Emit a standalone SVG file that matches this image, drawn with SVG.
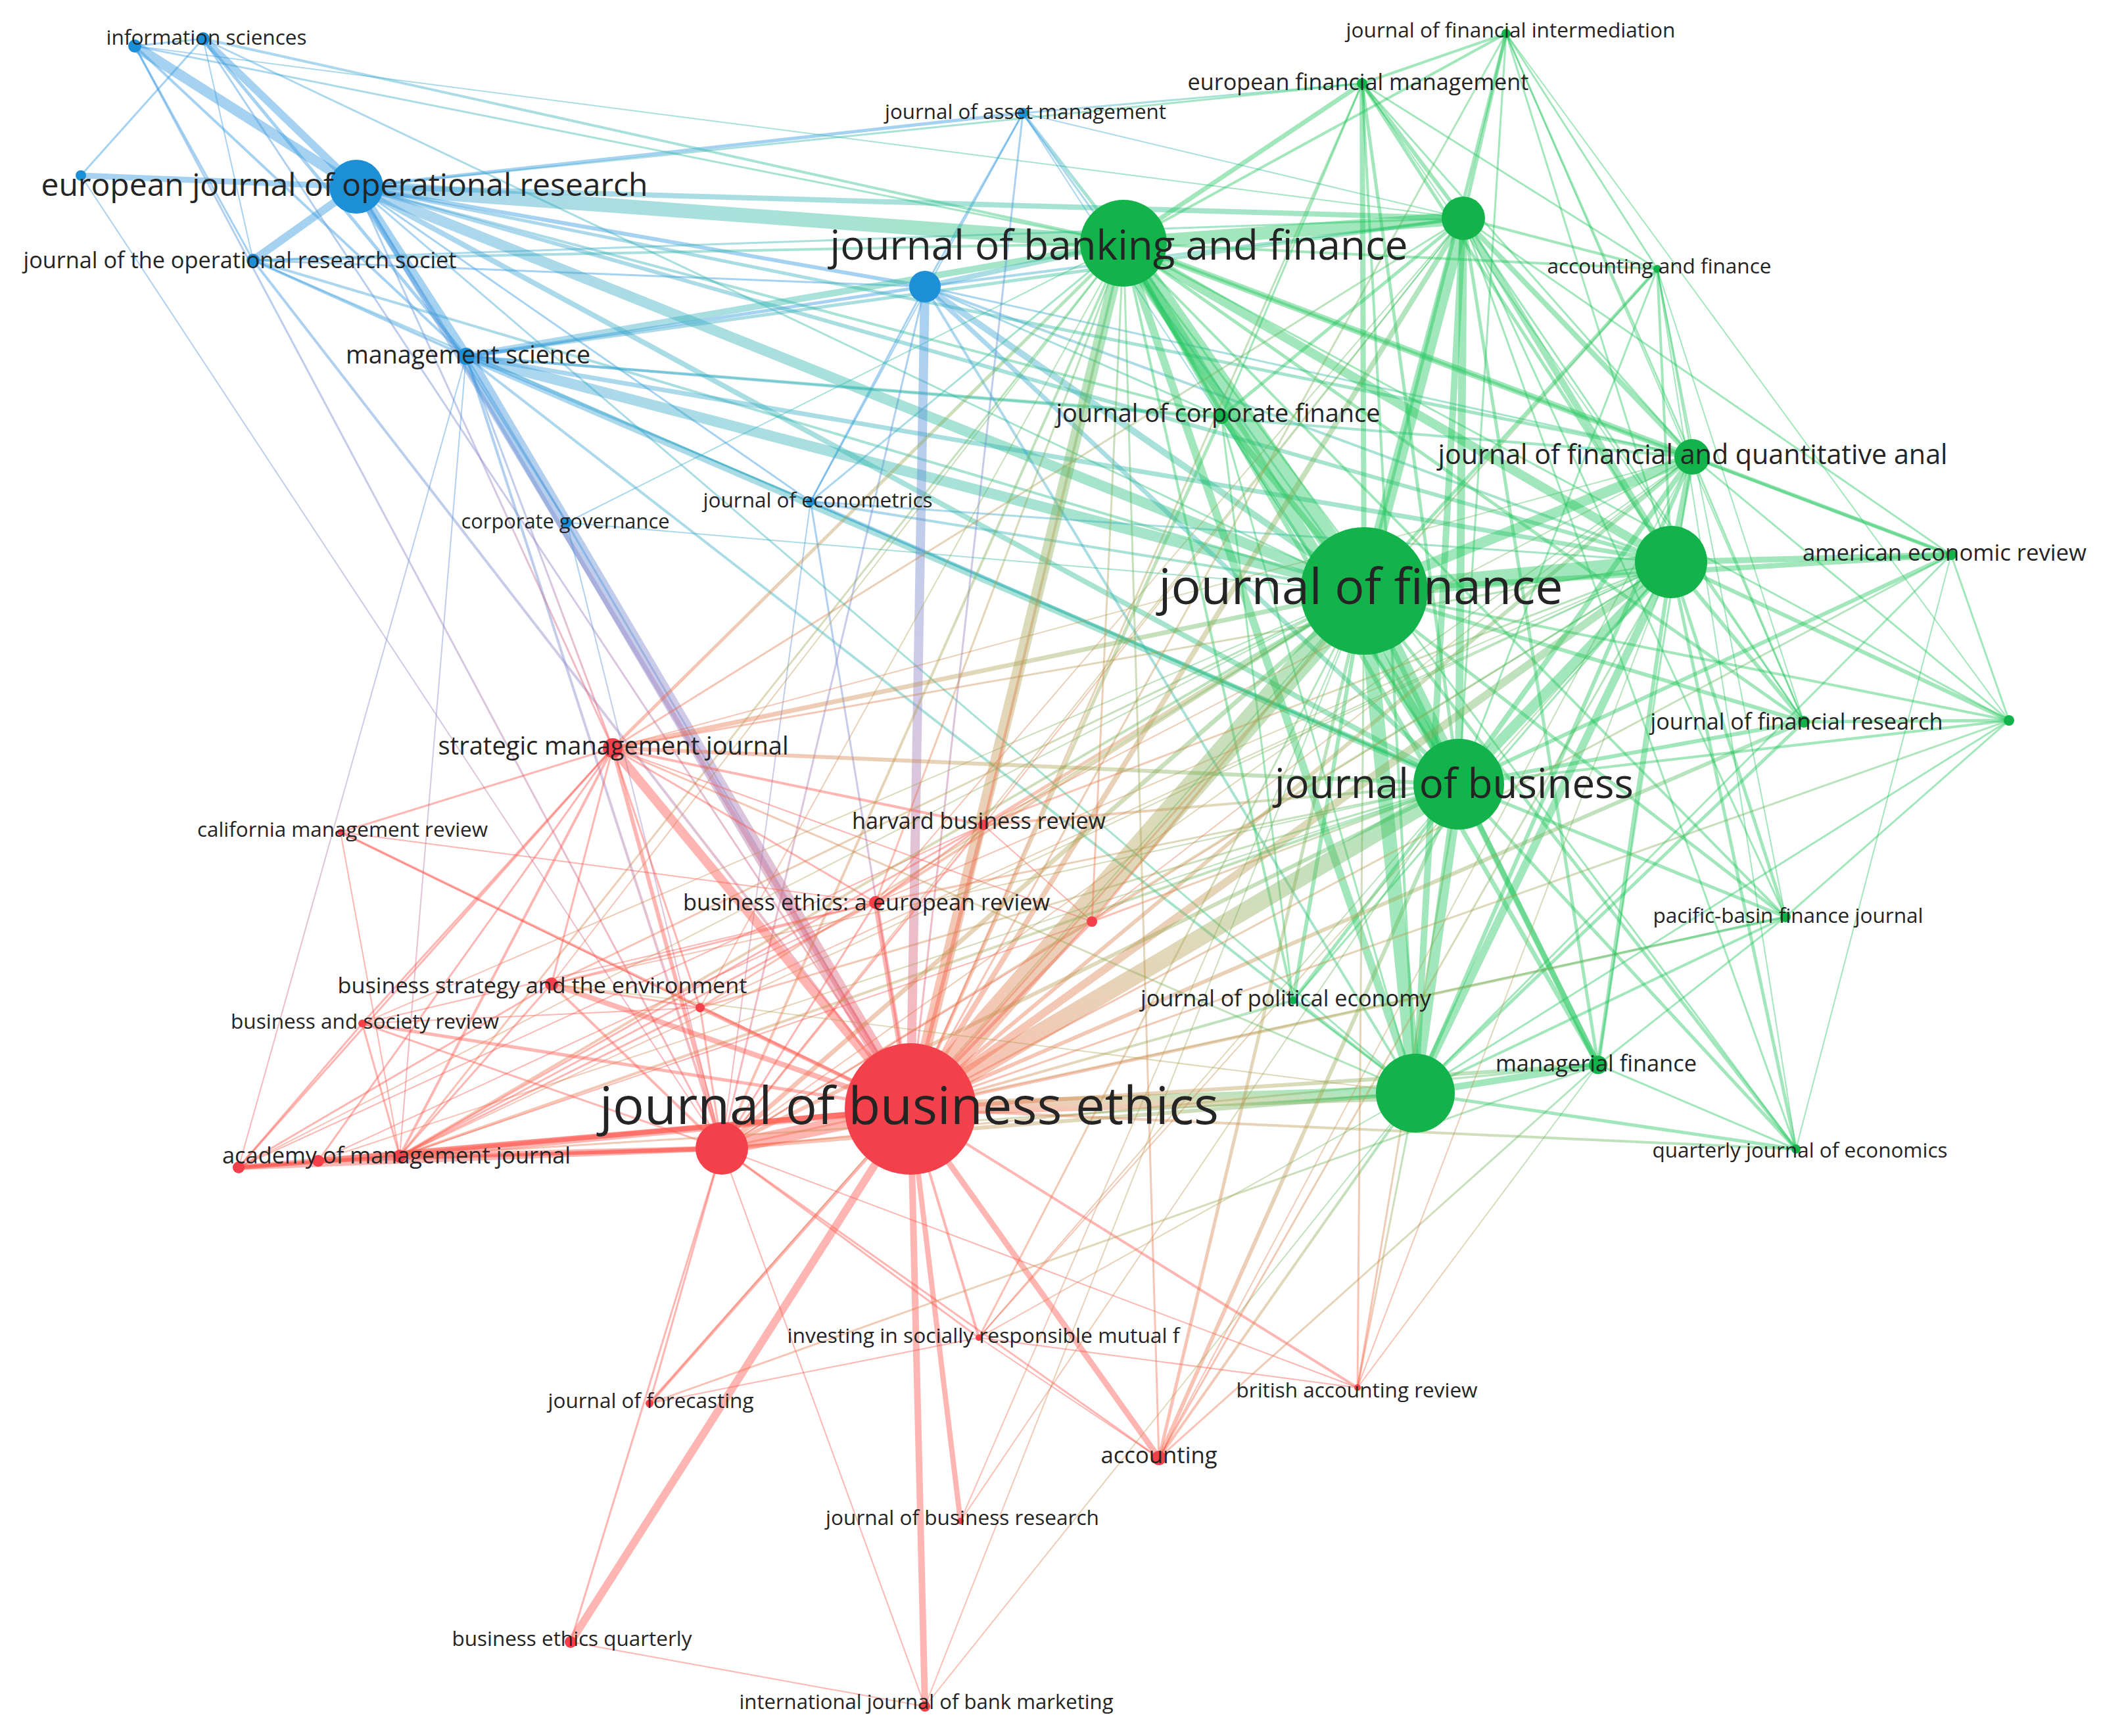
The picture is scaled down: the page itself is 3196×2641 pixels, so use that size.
<svg xmlns="http://www.w3.org/2000/svg" width="3196" height="2641" viewBox="0 0 3196 2641">
<defs>
<linearGradient id="gA" x1="0" y1="1" x2="1" y2="0"><stop offset="0" stop-color="#ff5a40"/><stop offset=".5" stop-color="#b0a050"/><stop offset="1" stop-color="#22c55e"/></linearGradient>
<linearGradient id="gB" x1="0" y1="0" x2="1" y2="1"><stop offset="0" stop-color="#ff5a40"/><stop offset=".5" stop-color="#b0a050"/><stop offset="1" stop-color="#22c55e"/></linearGradient>
<linearGradient id="gC" x1="1" y1="1" x2="0" y2="0"><stop offset="0" stop-color="#ff5a40"/><stop offset=".5" stop-color="#b0a050"/><stop offset="1" stop-color="#22c55e"/></linearGradient>
<linearGradient id="gBG" x1="0" y1="0" x2="1" y2="0"><stop offset="0" stop-color="#3a9be0"/><stop offset=".5" stop-color="#2fb8a8"/><stop offset="1" stop-color="#22c55e"/></linearGradient>
<linearGradient id="gBR" x1="0" y1="0" x2="0" y2="1"><stop offset="0" stop-color="#3a9be0"/><stop offset=".5" stop-color="#9a88c8"/><stop offset="1" stop-color="#ff5a5a"/></linearGradient>
</defs>
<style>
.b line{stroke:#3a9be0;stroke-opacity:.45}
.bg line{stroke:url(#gBG);stroke-opacity:.42}
.g line{stroke:#22c55e;stroke-opacity:.42}
.r line{stroke:#ff5248;stroke-opacity:.42}
.rgA line{stroke:url(#gA);stroke-opacity:.4}
.rgB line{stroke:url(#gB);stroke-opacity:.4}
.rgC line{stroke:url(#gC);stroke-opacity:.4}
.br line{stroke:url(#gBR);stroke-opacity:.45}
.nb circle{fill:#1d8fd6}
.ng circle{fill:#12b34a}
.nr circle{fill:#f4404a}
text{font-family:"Open Sans","Noto Sans","DejaVu Sans",sans-serif;fill:#242424;text-anchor:middle}
</style>
<rect width="3196" height="2641" fill="#ffffff"/>
<g id="connectors">
<g class="b">
<line x1="205" y1="70" x2="309" y2="59" stroke-width="3"/>
<line x1="309" y1="59" x2="123" y2="267" stroke-width="3"/>
<line x1="123" y1="267" x2="542" y2="284" stroke-width="9"/>
<line x1="205" y1="70" x2="542" y2="284" stroke-width="16"/>
<line x1="309" y1="59" x2="542" y2="284" stroke-width="12"/>
<line x1="205" y1="70" x2="709" y2="542" stroke-width="4"/>
<line x1="309" y1="59" x2="709" y2="542" stroke-width="5"/>
<line x1="205" y1="70" x2="385" y2="396" stroke-width="3"/>
<line x1="309" y1="59" x2="385" y2="396" stroke-width="2"/>
<line x1="542" y1="284" x2="385" y2="396" stroke-width="12"/>
<line x1="542" y1="284" x2="709" y2="542" stroke-width="16"/>
<line x1="385" y1="396" x2="709" y2="542" stroke-width="4"/>
<line x1="542" y1="284" x2="1556" y2="172" stroke-width="5"/>
<line x1="542" y1="284" x2="1407" y2="436" stroke-width="6"/>
<line x1="709" y1="542" x2="1407" y2="436" stroke-width="5"/>
<line x1="709" y1="542" x2="862" y2="795" stroke-width="3"/>
<line x1="709" y1="542" x2="1233" y2="763" stroke-width="3"/>
<line x1="542" y1="284" x2="1233" y2="763" stroke-width="3"/>
<line x1="1556" y1="172" x2="1407" y2="436" stroke-width="3"/>
<line x1="1407" y1="436" x2="1233" y2="763" stroke-width="3"/>
<line x1="1556" y1="172" x2="1233" y2="763" stroke-width="2"/>
<line x1="542" y1="284" x2="862" y2="795" stroke-width="3"/>
<line x1="385" y1="396" x2="1407" y2="436" stroke-width="3"/>
</g>
<g class="bg">
<line x1="542" y1="284" x2="1709" y2="370" stroke-width="22"/>
<line x1="542" y1="284" x2="2226" y2="332" stroke-width="8"/>
<line x1="542" y1="284" x2="2075" y2="899" stroke-width="16"/>
<line x1="542" y1="284" x2="2219" y2="1193" stroke-width="8"/>
<line x1="542" y1="284" x2="2542" y2="855" stroke-width="6"/>
<line x1="542" y1="284" x2="2574" y2="695" stroke-width="5"/>
<line x1="542" y1="284" x2="1858" y2="634" stroke-width="4"/>
<line x1="542" y1="284" x2="2153" y2="1663" stroke-width="3"/>
<line x1="542" y1="284" x2="2072" y2="127" stroke-width="3"/>
<line x1="205" y1="70" x2="1709" y2="370" stroke-width="3"/>
<line x1="309" y1="59" x2="1709" y2="370" stroke-width="4"/>
<line x1="309" y1="59" x2="2075" y2="899" stroke-width="3"/>
<line x1="205" y1="70" x2="2226" y2="332" stroke-width="2"/>
<line x1="385" y1="396" x2="1709" y2="370" stroke-width="4"/>
<line x1="385" y1="396" x2="2075" y2="899" stroke-width="4"/>
<line x1="385" y1="396" x2="2226" y2="332" stroke-width="3"/>
<line x1="385" y1="396" x2="2219" y2="1193" stroke-width="3"/>
<line x1="709" y1="542" x2="1709" y2="370" stroke-width="10"/>
<line x1="709" y1="542" x2="2075" y2="899" stroke-width="16"/>
<line x1="709" y1="542" x2="2219" y2="1193" stroke-width="10"/>
<line x1="709" y1="542" x2="2226" y2="332" stroke-width="5"/>
<line x1="709" y1="542" x2="2542" y2="855" stroke-width="7"/>
<line x1="709" y1="542" x2="2574" y2="695" stroke-width="4"/>
<line x1="709" y1="542" x2="2153" y2="1663" stroke-width="4"/>
<line x1="709" y1="542" x2="1858" y2="634" stroke-width="4"/>
<line x1="1556" y1="172" x2="1709" y2="370" stroke-width="5"/>
<line x1="1556" y1="172" x2="2072" y2="127" stroke-width="3"/>
<line x1="1556" y1="172" x2="2075" y2="899" stroke-width="3"/>
<line x1="1556" y1="172" x2="2219" y2="1193" stroke-width="2"/>
<line x1="1556" y1="172" x2="2226" y2="332" stroke-width="2"/>
<line x1="1407" y1="436" x2="1709" y2="370" stroke-width="8"/>
<line x1="1407" y1="436" x2="2075" y2="899" stroke-width="10"/>
<line x1="1407" y1="436" x2="2219" y2="1193" stroke-width="7"/>
<line x1="1407" y1="436" x2="2226" y2="332" stroke-width="4"/>
<line x1="1407" y1="436" x2="2542" y2="855" stroke-width="4"/>
<line x1="1407" y1="436" x2="2574" y2="695" stroke-width="3"/>
<line x1="1407" y1="436" x2="2153" y2="1663" stroke-width="4"/>
<line x1="1407" y1="436" x2="1858" y2="634" stroke-width="3"/>
<line x1="1233" y1="763" x2="2075" y2="899" stroke-width="4"/>
<line x1="1233" y1="763" x2="1709" y2="370" stroke-width="3"/>
<line x1="1233" y1="763" x2="2219" y2="1193" stroke-width="5"/>
<line x1="1233" y1="763" x2="2542" y2="855" stroke-width="3"/>
<line x1="862" y1="795" x2="1709" y2="370" stroke-width="2"/>
<line x1="862" y1="795" x2="2075" y2="899" stroke-width="2"/>
</g>
<g class="br">
<line x1="709" y1="542" x2="1385" y2="1687" stroke-width="22"/>
<line x1="542" y1="284" x2="1385" y2="1687" stroke-width="7"/>
<line x1="1407" y1="436" x2="1385" y2="1687" stroke-width="14"/>
<line x1="385" y1="396" x2="1385" y2="1687" stroke-width="4"/>
<line x1="205" y1="70" x2="1098" y2="1747" stroke-width="3"/>
<line x1="123" y1="267" x2="1098" y2="1747" stroke-width="2"/>
<line x1="309" y1="59" x2="1385" y2="1687" stroke-width="3"/>
<line x1="709" y1="542" x2="932" y2="1138" stroke-width="3"/>
<line x1="709" y1="542" x2="1098" y2="1747" stroke-width="4"/>
<line x1="542" y1="284" x2="932" y2="1138" stroke-width="3"/>
<line x1="1556" y1="172" x2="1385" y2="1687" stroke-width="3"/>
<line x1="1233" y1="763" x2="1385" y2="1687" stroke-width="3"/>
<line x1="862" y1="795" x2="1385" y2="1687" stroke-width="3"/>
<line x1="862" y1="795" x2="1098" y2="1747" stroke-width="2"/>
<line x1="709" y1="542" x2="363" y2="1776" stroke-width="2"/>
<line x1="709" y1="542" x2="608" y2="1759" stroke-width="2"/>
<line x1="1233" y1="763" x2="1098" y2="1747" stroke-width="2"/>
<line x1="1407" y1="436" x2="1098" y2="1747" stroke-width="3"/>
</g>
<g class="g">
<line x1="1709" y1="370" x2="2075" y2="899" stroke-width="32"/>
<line x1="1709" y1="370" x2="2226" y2="332" stroke-width="20"/>
<line x1="1709" y1="370" x2="2219" y2="1193" stroke-width="18"/>
<line x1="1709" y1="370" x2="2542" y2="855" stroke-width="14"/>
<line x1="1709" y1="370" x2="2574" y2="695" stroke-width="10"/>
<line x1="1709" y1="370" x2="2153" y2="1663" stroke-width="12"/>
<line x1="1709" y1="370" x2="2072" y2="127" stroke-width="7"/>
<line x1="1709" y1="370" x2="2291" y2="51" stroke-width="4"/>
<line x1="1709" y1="370" x2="2521" y2="409" stroke-width="4"/>
<line x1="1709" y1="370" x2="1858" y2="634" stroke-width="7"/>
<line x1="1709" y1="370" x2="2744" y2="1098" stroke-width="5"/>
<line x1="1709" y1="370" x2="2431" y2="1620" stroke-width="7"/>
<line x1="1709" y1="370" x2="2716" y2="1395" stroke-width="4"/>
<line x1="1709" y1="370" x2="2968" y2="844" stroke-width="4"/>
<line x1="1709" y1="370" x2="1967" y2="1522" stroke-width="4"/>
<line x1="1709" y1="370" x2="2732" y2="1748" stroke-width="3"/>
<line x1="1709" y1="370" x2="3056" y2="1096" stroke-width="3"/>
<line x1="2075" y1="899" x2="2226" y2="332" stroke-width="20"/>
<line x1="2075" y1="899" x2="2542" y2="855" stroke-width="26"/>
<line x1="2075" y1="899" x2="2219" y2="1193" stroke-width="30"/>
<line x1="2075" y1="899" x2="2574" y2="695" stroke-width="16"/>
<line x1="2075" y1="899" x2="2153" y2="1663" stroke-width="22"/>
<line x1="2075" y1="899" x2="2968" y2="844" stroke-width="8"/>
<line x1="2075" y1="899" x2="2744" y2="1098" stroke-width="6"/>
<line x1="2075" y1="899" x2="2072" y2="127" stroke-width="8"/>
<line x1="2075" y1="899" x2="2291" y2="51" stroke-width="5"/>
<line x1="2075" y1="899" x2="2521" y2="409" stroke-width="5"/>
<line x1="2075" y1="899" x2="1858" y2="634" stroke-width="9"/>
<line x1="2075" y1="899" x2="2431" y2="1620" stroke-width="8"/>
<line x1="2075" y1="899" x2="2716" y2="1395" stroke-width="5"/>
<line x1="2075" y1="899" x2="1967" y2="1522" stroke-width="6"/>
<line x1="2075" y1="899" x2="2732" y2="1748" stroke-width="5"/>
<line x1="2075" y1="899" x2="3056" y2="1096" stroke-width="4"/>
<line x1="2226" y1="332" x2="2219" y2="1193" stroke-width="12"/>
<line x1="2226" y1="332" x2="2542" y2="855" stroke-width="10"/>
<line x1="2226" y1="332" x2="2574" y2="695" stroke-width="8"/>
<line x1="2226" y1="332" x2="2153" y2="1663" stroke-width="10"/>
<line x1="2226" y1="332" x2="2072" y2="127" stroke-width="6"/>
<line x1="2226" y1="332" x2="2291" y2="51" stroke-width="5"/>
<line x1="2226" y1="332" x2="2521" y2="409" stroke-width="4"/>
<line x1="2226" y1="332" x2="1858" y2="634" stroke-width="5"/>
<line x1="2226" y1="332" x2="2431" y2="1620" stroke-width="5"/>
<line x1="2226" y1="332" x2="2968" y2="844" stroke-width="3"/>
<line x1="2226" y1="332" x2="2744" y2="1098" stroke-width="3"/>
<line x1="2226" y1="332" x2="2732" y2="1748" stroke-width="3"/>
<line x1="2226" y1="332" x2="2716" y2="1395" stroke-width="3"/>
<line x1="2542" y1="855" x2="2219" y2="1193" stroke-width="16"/>
<line x1="2542" y1="855" x2="2574" y2="695" stroke-width="10"/>
<line x1="2542" y1="855" x2="2968" y2="844" stroke-width="9"/>
<line x1="2542" y1="855" x2="2153" y2="1663" stroke-width="12"/>
<line x1="2542" y1="855" x2="3056" y2="1096" stroke-width="6"/>
<line x1="2542" y1="855" x2="2744" y2="1098" stroke-width="6"/>
<line x1="2542" y1="855" x2="2431" y2="1620" stroke-width="6"/>
<line x1="2542" y1="855" x2="2716" y2="1395" stroke-width="5"/>
<line x1="2542" y1="855" x2="2732" y2="1748" stroke-width="5"/>
<line x1="2542" y1="855" x2="2072" y2="127" stroke-width="5"/>
<line x1="2542" y1="855" x2="2521" y2="409" stroke-width="4"/>
<line x1="2542" y1="855" x2="2291" y2="51" stroke-width="3"/>
<line x1="2542" y1="855" x2="1967" y2="1522" stroke-width="3"/>
<line x1="2219" y1="1193" x2="2574" y2="695" stroke-width="8"/>
<line x1="2219" y1="1193" x2="2153" y2="1663" stroke-width="16"/>
<line x1="2219" y1="1193" x2="2431" y2="1620" stroke-width="9"/>
<line x1="2219" y1="1193" x2="2744" y2="1098" stroke-width="6"/>
<line x1="2219" y1="1193" x2="2968" y2="844" stroke-width="6"/>
<line x1="2219" y1="1193" x2="2716" y2="1395" stroke-width="5"/>
<line x1="2219" y1="1193" x2="2732" y2="1748" stroke-width="5"/>
<line x1="2219" y1="1193" x2="3056" y2="1096" stroke-width="4"/>
<line x1="2219" y1="1193" x2="2072" y2="127" stroke-width="5"/>
<line x1="2219" y1="1193" x2="2291" y2="51" stroke-width="3"/>
<line x1="2219" y1="1193" x2="2521" y2="409" stroke-width="3"/>
<line x1="2219" y1="1193" x2="1967" y2="1522" stroke-width="5"/>
<line x1="2219" y1="1193" x2="1858" y2="634" stroke-width="5"/>
<line x1="2574" y1="695" x2="2968" y2="844" stroke-width="6"/>
<line x1="2574" y1="695" x2="2153" y2="1663" stroke-width="6"/>
<line x1="2574" y1="695" x2="2072" y2="127" stroke-width="3"/>
<line x1="2574" y1="695" x2="2521" y2="409" stroke-width="3"/>
<line x1="2574" y1="695" x2="2291" y2="51" stroke-width="3"/>
<line x1="2574" y1="695" x2="3056" y2="1096" stroke-width="3"/>
<line x1="2574" y1="695" x2="2744" y2="1098" stroke-width="3"/>
<line x1="2574" y1="695" x2="2431" y2="1620" stroke-width="3"/>
<line x1="2153" y1="1663" x2="2431" y2="1620" stroke-width="10"/>
<line x1="2153" y1="1663" x2="2716" y2="1395" stroke-width="4"/>
<line x1="2153" y1="1663" x2="2732" y2="1748" stroke-width="5"/>
<line x1="2153" y1="1663" x2="2744" y2="1098" stroke-width="5"/>
<line x1="2153" y1="1663" x2="2968" y2="844" stroke-width="3"/>
<line x1="2153" y1="1663" x2="3056" y2="1096" stroke-width="3"/>
<line x1="2153" y1="1663" x2="2072" y2="127" stroke-width="4"/>
<line x1="2153" y1="1663" x2="1967" y2="1522" stroke-width="3"/>
<line x1="2153" y1="1663" x2="1858" y2="634" stroke-width="3"/>
<line x1="2072" y1="127" x2="2291" y2="51" stroke-width="4"/>
<line x1="2072" y1="127" x2="2521" y2="409" stroke-width="3"/>
<line x1="2072" y1="127" x2="2744" y2="1098" stroke-width="2"/>
<line x1="2072" y1="127" x2="1858" y2="634" stroke-width="3"/>
<line x1="2291" y1="51" x2="2521" y2="409" stroke-width="3"/>
<line x1="2291" y1="51" x2="3056" y2="1096" stroke-width="2"/>
<line x1="2291" y1="51" x2="2744" y2="1098" stroke-width="2"/>
<line x1="2431" y1="1620" x2="2732" y2="1748" stroke-width="3"/>
<line x1="2431" y1="1620" x2="2716" y2="1395" stroke-width="3"/>
<line x1="2968" y1="844" x2="3056" y2="1096" stroke-width="3"/>
<line x1="2744" y1="1098" x2="3056" y2="1096" stroke-width="5"/>
<line x1="2716" y1="1395" x2="3056" y2="1096" stroke-width="3"/>
<line x1="2732" y1="1748" x2="2968" y2="844" stroke-width="2"/>
<line x1="2521" y1="409" x2="2744" y2="1098" stroke-width="2"/>
<line x1="2521" y1="409" x2="2716" y2="1395" stroke-width="2"/>
<line x1="2521" y1="409" x2="2732" y2="1748" stroke-width="2"/>
<line x1="1858" y1="634" x2="1967" y2="1522" stroke-width="3"/>
</g>
<g class="r">
<line x1="1385" y1="1687" x2="1098" y2="1747" stroke-width="22"/>
<line x1="1385" y1="1687" x2="932" y2="1138" stroke-width="14"/>
<line x1="1385" y1="1687" x2="363" y2="1776" stroke-width="8"/>
<line x1="1385" y1="1687" x2="484" y2="1766" stroke-width="8"/>
<line x1="1385" y1="1687" x2="608" y2="1759" stroke-width="10"/>
<line x1="1385" y1="1687" x2="839" y2="1497" stroke-width="8"/>
<line x1="1385" y1="1687" x2="1065" y2="1533" stroke-width="6"/>
<line x1="1385" y1="1687" x2="551" y2="1557" stroke-width="5"/>
<line x1="1385" y1="1687" x2="518" y2="1266" stroke-width="4"/>
<line x1="1385" y1="1687" x2="1496" y2="1255" stroke-width="6"/>
<line x1="1385" y1="1687" x2="1332" y2="1373" stroke-width="8"/>
<line x1="1385" y1="1687" x2="1661" y2="1402" stroke-width="5"/>
<line x1="1385" y1="1687" x2="1489" y2="2035" stroke-width="4"/>
<line x1="1385" y1="1687" x2="868" y2="2498" stroke-width="12"/>
<line x1="1385" y1="1687" x2="988" y2="2135" stroke-width="5"/>
<line x1="1385" y1="1687" x2="1763" y2="2218" stroke-width="9"/>
<line x1="1385" y1="1687" x2="1461" y2="2314" stroke-width="8"/>
<line x1="1385" y1="1687" x2="1407" y2="2596" stroke-width="10"/>
<line x1="1385" y1="1687" x2="2065" y2="2111" stroke-width="4"/>
<line x1="1098" y1="1747" x2="363" y2="1776" stroke-width="8"/>
<line x1="1098" y1="1747" x2="484" y2="1766" stroke-width="6"/>
<line x1="1098" y1="1747" x2="608" y2="1759" stroke-width="8"/>
<line x1="1098" y1="1747" x2="932" y2="1138" stroke-width="6"/>
<line x1="1098" y1="1747" x2="839" y2="1497" stroke-width="4"/>
<line x1="1098" y1="1747" x2="551" y2="1557" stroke-width="3"/>
<line x1="1098" y1="1747" x2="988" y2="2135" stroke-width="3"/>
<line x1="1098" y1="1747" x2="1489" y2="2035" stroke-width="3"/>
<line x1="1098" y1="1747" x2="1763" y2="2218" stroke-width="3"/>
<line x1="1098" y1="1747" x2="2065" y2="2111" stroke-width="2"/>
<line x1="1098" y1="1747" x2="1407" y2="2596" stroke-width="2"/>
<line x1="1098" y1="1747" x2="868" y2="2498" stroke-width="3"/>
<line x1="1098" y1="1747" x2="1065" y2="1533" stroke-width="3"/>
<line x1="1098" y1="1747" x2="1496" y2="1255" stroke-width="3"/>
<line x1="1098" y1="1747" x2="1332" y2="1373" stroke-width="3"/>
<line x1="1098" y1="1747" x2="1661" y2="1402" stroke-width="2"/>
<line x1="932" y1="1138" x2="363" y2="1776" stroke-width="3"/>
<line x1="932" y1="1138" x2="484" y2="1766" stroke-width="3"/>
<line x1="932" y1="1138" x2="608" y2="1759" stroke-width="4"/>
<line x1="932" y1="1138" x2="518" y2="1266" stroke-width="3"/>
<line x1="932" y1="1138" x2="839" y2="1497" stroke-width="3"/>
<line x1="932" y1="1138" x2="1496" y2="1255" stroke-width="4"/>
<line x1="932" y1="1138" x2="1332" y2="1373" stroke-width="3"/>
<line x1="932" y1="1138" x2="551" y2="1557" stroke-width="3"/>
<line x1="932" y1="1138" x2="1065" y2="1533" stroke-width="3"/>
<line x1="932" y1="1138" x2="1661" y2="1402" stroke-width="2"/>
<line x1="608" y1="1759" x2="363" y2="1776" stroke-width="6"/>
<line x1="484" y1="1766" x2="363" y2="1776" stroke-width="4"/>
<line x1="608" y1="1759" x2="551" y2="1557" stroke-width="3"/>
<line x1="363" y1="1776" x2="551" y2="1557" stroke-width="3"/>
<line x1="363" y1="1776" x2="839" y2="1497" stroke-width="3"/>
<line x1="608" y1="1759" x2="839" y2="1497" stroke-width="3"/>
<line x1="608" y1="1759" x2="1496" y2="1255" stroke-width="3"/>
<line x1="608" y1="1759" x2="1332" y2="1373" stroke-width="3"/>
<line x1="484" y1="1766" x2="1332" y2="1373" stroke-width="2"/>
<line x1="363" y1="1776" x2="1496" y2="1255" stroke-width="2"/>
<line x1="608" y1="1759" x2="1065" y2="1533" stroke-width="3"/>
<line x1="608" y1="1759" x2="1661" y2="1402" stroke-width="2"/>
<line x1="518" y1="1266" x2="1332" y2="1373" stroke-width="2"/>
<line x1="518" y1="1266" x2="608" y2="1759" stroke-width="2"/>
<line x1="518" y1="1266" x2="1065" y2="1533" stroke-width="2"/>
<line x1="839" y1="1497" x2="1065" y2="1533" stroke-width="3"/>
<line x1="839" y1="1497" x2="1332" y2="1373" stroke-width="3"/>
<line x1="551" y1="1557" x2="1332" y2="1373" stroke-width="2"/>
<line x1="551" y1="1557" x2="1065" y2="1533" stroke-width="2"/>
<line x1="868" y1="2498" x2="1407" y2="2596" stroke-width="2"/>
<line x1="988" y1="2135" x2="1489" y2="2035" stroke-width="2"/>
<line x1="1489" y1="2035" x2="1763" y2="2218" stroke-width="2"/>
<line x1="1489" y1="2035" x2="2065" y2="2111" stroke-width="2"/>
<line x1="1496" y1="1255" x2="1332" y2="1373" stroke-width="3"/>
<line x1="1496" y1="1255" x2="1661" y2="1402" stroke-width="2"/>
</g>
<g class="rgA">
<line x1="1385" y1="1687" x2="2075" y2="899" stroke-width="36"/>
<line x1="1385" y1="1687" x2="2219" y2="1193" stroke-width="26"/>
<line x1="1385" y1="1687" x2="2153" y2="1663" stroke-width="22"/>
<line x1="1385" y1="1687" x2="1709" y2="370" stroke-width="18"/>
<line x1="1385" y1="1687" x2="2542" y2="855" stroke-width="12"/>
<line x1="1385" y1="1687" x2="2226" y2="332" stroke-width="8"/>
<line x1="1385" y1="1687" x2="2574" y2="695" stroke-width="6"/>
<line x1="1385" y1="1687" x2="1967" y2="1522" stroke-width="4"/>
<line x1="1385" y1="1687" x2="2431" y2="1620" stroke-width="6"/>
<line x1="1385" y1="1687" x2="1858" y2="634" stroke-width="5"/>
<line x1="1385" y1="1687" x2="2744" y2="1098" stroke-width="6"/>
<line x1="1385" y1="1687" x2="2716" y2="1395" stroke-width="4"/>
<line x1="1385" y1="1687" x2="2968" y2="844" stroke-width="3"/>
<line x1="1385" y1="1687" x2="2072" y2="127" stroke-width="3"/>
<line x1="1385" y1="1687" x2="2291" y2="51" stroke-width="3"/>
<line x1="1385" y1="1687" x2="2521" y2="409" stroke-width="3"/>
<line x1="1385" y1="1687" x2="3056" y2="1096" stroke-width="3"/>
<line x1="1098" y1="1747" x2="2075" y2="899" stroke-width="7"/>
<line x1="1098" y1="1747" x2="1709" y2="370" stroke-width="4"/>
<line x1="1098" y1="1747" x2="2219" y2="1193" stroke-width="6"/>
<line x1="1098" y1="1747" x2="2153" y2="1663" stroke-width="6"/>
<line x1="1098" y1="1747" x2="2542" y2="855" stroke-width="3"/>
<line x1="1098" y1="1747" x2="2716" y2="1395" stroke-width="3"/>
<line x1="1098" y1="1747" x2="2574" y2="695" stroke-width="2"/>
<line x1="1098" y1="1747" x2="2226" y2="332" stroke-width="2"/>
<line x1="1098" y1="1747" x2="2431" y2="1620" stroke-width="3"/>
<line x1="932" y1="1138" x2="2075" y2="899" stroke-width="7"/>
<line x1="932" y1="1138" x2="1709" y2="370" stroke-width="5"/>
<line x1="932" y1="1138" x2="2542" y2="855" stroke-width="3"/>
<line x1="932" y1="1138" x2="2226" y2="332" stroke-width="3"/>
<line x1="932" y1="1138" x2="2574" y2="695" stroke-width="2"/>
<line x1="608" y1="1759" x2="2075" y2="899" stroke-width="4"/>
<line x1="608" y1="1759" x2="1709" y2="370" stroke-width="3"/>
<line x1="608" y1="1759" x2="2219" y2="1193" stroke-width="4"/>
<line x1="608" y1="1759" x2="2153" y2="1663" stroke-width="3"/>
<line x1="608" y1="1759" x2="2542" y2="855" stroke-width="2"/>
<line x1="363" y1="1776" x2="2075" y2="899" stroke-width="2"/>
<line x1="484" y1="1766" x2="2219" y2="1193" stroke-width="2"/>
<line x1="839" y1="1497" x2="2075" y2="899" stroke-width="3"/>
<line x1="839" y1="1497" x2="1709" y2="370" stroke-width="2"/>
<line x1="839" y1="1497" x2="2219" y2="1193" stroke-width="2"/>
<line x1="839" y1="1497" x2="2153" y2="1663" stroke-width="2"/>
<line x1="1065" y1="1533" x2="2075" y2="899" stroke-width="3"/>
<line x1="1065" y1="1533" x2="2219" y2="1193" stroke-width="3"/>
<line x1="1065" y1="1533" x2="1709" y2="370" stroke-width="2"/>
<line x1="1065" y1="1533" x2="2542" y2="855" stroke-width="2"/>
<line x1="551" y1="1557" x2="2075" y2="899" stroke-width="2"/>
<line x1="1496" y1="1255" x2="2075" y2="899" stroke-width="5"/>
<line x1="1496" y1="1255" x2="1709" y2="370" stroke-width="4"/>
<line x1="1496" y1="1255" x2="2219" y2="1193" stroke-width="4"/>
<line x1="1496" y1="1255" x2="2542" y2="855" stroke-width="3"/>
<line x1="1496" y1="1255" x2="2574" y2="695" stroke-width="2"/>
<line x1="1496" y1="1255" x2="2226" y2="332" stroke-width="2"/>
<line x1="1332" y1="1373" x2="2075" y2="899" stroke-width="4"/>
<line x1="1332" y1="1373" x2="1709" y2="370" stroke-width="3"/>
<line x1="1332" y1="1373" x2="2219" y2="1193" stroke-width="3"/>
<line x1="1332" y1="1373" x2="2542" y2="855" stroke-width="2"/>
<line x1="1332" y1="1373" x2="2226" y2="332" stroke-width="2"/>
<line x1="1661" y1="1402" x2="2075" y2="899" stroke-width="4"/>
<line x1="1661" y1="1402" x2="2219" y2="1193" stroke-width="3"/>
<line x1="1661" y1="1402" x2="1709" y2="370" stroke-width="3"/>
<line x1="1661" y1="1402" x2="2542" y2="855" stroke-width="2"/>
<line x1="1661" y1="1402" x2="2574" y2="695" stroke-width="2"/>
<line x1="1763" y1="2218" x2="2075" y2="899" stroke-width="5"/>
<line x1="1763" y1="2218" x2="2219" y2="1193" stroke-width="6"/>
<line x1="1763" y1="2218" x2="2153" y2="1663" stroke-width="4"/>
<line x1="1763" y1="2218" x2="2542" y2="855" stroke-width="3"/>
<line x1="1763" y1="2218" x2="2431" y2="1620" stroke-width="3"/>
<line x1="1763" y1="2218" x2="2574" y2="695" stroke-width="2"/>
<line x1="2065" y1="2111" x2="2075" y2="899" stroke-width="3"/>
<line x1="2065" y1="2111" x2="2153" y2="1663" stroke-width="3"/>
<line x1="2065" y1="2111" x2="2219" y2="1193" stroke-width="3"/>
<line x1="2065" y1="2111" x2="2542" y2="855" stroke-width="2"/>
<line x1="2065" y1="2111" x2="2431" y2="1620" stroke-width="2"/>
<line x1="1489" y1="2035" x2="2075" y2="899" stroke-width="3"/>
<line x1="1489" y1="2035" x2="2153" y2="1663" stroke-width="2"/>
<line x1="1489" y1="2035" x2="2219" y2="1193" stroke-width="2"/>
<line x1="1489" y1="2035" x2="2542" y2="855" stroke-width="2"/>
<line x1="988" y1="2135" x2="2075" y2="899" stroke-width="2"/>
<line x1="988" y1="2135" x2="2431" y2="1620" stroke-width="3"/>
<line x1="1407" y1="2596" x2="2075" y2="899" stroke-width="2"/>
<line x1="1407" y1="2596" x2="2153" y2="1663" stroke-width="2"/>
<line x1="1461" y1="2314" x2="2075" y2="899" stroke-width="2"/>
<line x1="1461" y1="2314" x2="2219" y2="1193" stroke-width="2"/>
</g>
<g class="rgB">
<line x1="1385" y1="1687" x2="2732" y2="1748" stroke-width="4"/>
<line x1="932" y1="1138" x2="2219" y2="1193" stroke-width="6"/>
<line x1="932" y1="1138" x2="2153" y2="1663" stroke-width="3"/>
</g>
<g class="rgC">
<line x1="1763" y1="2218" x2="1709" y2="370" stroke-width="3"/>
</g>
</g>
<g id="nodes">
<g id="n-california-management-review" class="nr"><circle cx="518" cy="1266" r="5"/><text x="521" y="1273" font-size="31.3" textLength="442" lengthAdjust="spacingAndGlyphs">california management review</text></g>
<g id="n-investing-in-socially-responsible" class="nr"><circle cx="1489" cy="2035" r="5"/><text x="1496" y="2043" font-size="31.5" textLength="597" lengthAdjust="spacingAndGlyphs">investing in socially responsible mutual f</text></g>
<g id="n-british-accounting-review" class="nr"><circle cx="2065" cy="2111" r="5"/><text x="2064" y="2126" font-size="31.5" textLength="367" lengthAdjust="spacingAndGlyphs">british accounting review</text></g>
<g id="n-journal-of-business-research" class="nr"><circle cx="1461" cy="2314" r="5"/><text x="1464" y="2320" font-size="31.6" textLength="416" lengthAdjust="spacingAndGlyphs">journal of business research</text></g>
<g id="n-accounting-and-finance" class="ng"><circle cx="2521" cy="409" r="6"/><text x="2524" y="416" font-size="31.5" textLength="341" lengthAdjust="spacingAndGlyphs">accounting and finance</text></g>
<g id="n-journal-of-political-economy" class="ng"><circle cx="1967" cy="1522" r="6"/><text x="1956" y="1531" font-size="34.2" textLength="442" lengthAdjust="spacingAndGlyphs">journal of political economy</text></g>
<g id="n-business-and-society-review" class="nr"><circle cx="551" cy="1557" r="6"/><text x="555" y="1565" font-size="31.5" textLength="408" lengthAdjust="spacingAndGlyphs">business and society review</text></g>
<g id="n-journal-of-forecasting" class="nr"><circle cx="988" cy="2135" r="6"/><text x="990" y="2142" font-size="31.5" textLength="313" lengthAdjust="spacingAndGlyphs">journal of forecasting</text></g>
<g id="n-journal-of-financial-intermediation" class="ng"><circle cx="2291" cy="51" r="7"/><text x="2298" y="57" font-size="31.6" textLength="501" lengthAdjust="spacingAndGlyphs">journal of financial intermediation</text></g>
<g id="n-quarterly-journal-of-economics" class="ng"><circle cx="2732" cy="1748" r="7"/><text x="2738" y="1761" font-size="31.4" textLength="449" lengthAdjust="spacingAndGlyphs">quarterly journal of economics</text></g>
<g id="n-red-unlabeled-1" class="nr"><circle cx="1065" cy="1533" r="7"/></g>
<g id="n-journal-of-econometrics" class="nb"><circle cx="1233" cy="763" r="7"/><text x="1244" y="772" font-size="31.5" textLength="349" lengthAdjust="spacingAndGlyphs">journal of econometrics</text></g>
<g id="n-blue-unlabeled-1" class="nb"><circle cx="123" cy="267" r="8"/></g>
<g id="n-corporate-governance" class="nb"><circle cx="862" cy="795" r="8"/><text x="860" y="804" font-size="30.8" textLength="317" lengthAdjust="spacingAndGlyphs">corporate governance</text></g>
<g id="n-journal-of-asset-management" class="nb"><circle cx="1556" cy="172" r="8"/><text x="1560" y="181" font-size="31.3" textLength="428" lengthAdjust="spacingAndGlyphs">journal of asset management</text></g>
<g id="n-european-financial-management" class="ng"><circle cx="2072" cy="127" r="8"/><text x="2066" y="137" font-size="34.2" textLength="519" lengthAdjust="spacingAndGlyphs">european financial management</text></g>
<g id="n-american-economic-review" class="ng"><circle cx="2968" cy="844" r="8"/><text x="2958" y="853" font-size="34.7" textLength="432" lengthAdjust="spacingAndGlyphs">american economic review</text></g>
<g id="n-green-unlabeled-1" class="ng"><circle cx="3056" cy="1096" r="8"/></g>
<g id="n-pacific-basin-finance-journal" class="ng"><circle cx="2716" cy="1395" r="8"/><text x="2720" y="1404" font-size="31.5" textLength="411" lengthAdjust="spacingAndGlyphs">pacific-basin finance journal</text></g>
<g id="n-harvard-business-review" class="nr"><circle cx="1496" cy="1255" r="8"/><text x="1489" y="1261" font-size="34.1" textLength="386" lengthAdjust="spacingAndGlyphs">harvard business review</text></g>
<g id="n-red-unlabeled-2" class="nr"><circle cx="1661" cy="1402" r="8"/></g>
<g id="n-international-journal-of-bank-marketing" class="nr"><circle cx="1407" cy="2596" r="8"/><text x="1409" y="2600" font-size="31" textLength="569" lengthAdjust="spacingAndGlyphs">international journal of bank marketing</text></g>
<g id="n-journal-of-financial-research" class="ng"><circle cx="2744" cy="1098" r="9"/><text x="2733" y="1110" font-size="34.2" textLength="445" lengthAdjust="spacingAndGlyphs">journal of financial research</text></g>
<g id="n-red-unlabeled-3" class="nr"><circle cx="363" cy="1776" r="9"/></g>
<g id="n-red-unlabeled-4" class="nr"><circle cx="484" cy="1766" r="9"/></g>
<g id="n-business-ethics-quarterly" class="nr"><circle cx="868" cy="2498" r="9"/><text x="870" y="2504" font-size="31.4" textLength="365" lengthAdjust="spacingAndGlyphs">business ethics quarterly</text></g>
<g id="n-blue-unlabeled-2" class="nb"><circle cx="205" cy="70" r="10"/></g>
<g id="n-information-sciences" class="nb"><circle cx="309" cy="59" r="10"/><text x="314" y="68" font-size="31.5" textLength="305" lengthAdjust="spacingAndGlyphs">information sciences</text></g>
<g id="n-journal-of-the-operational-research-societ" class="nb"><circle cx="385" cy="396" r="10"/><text x="365" y="408" font-size="34.3" textLength="659" lengthAdjust="spacingAndGlyphs">journal of the operational research societ</text></g>
<g id="n-journal-of-corporate-finance" class="ng"><circle cx="1858" cy="634" r="11"/><text x="1853" y="642" font-size="37.9" textLength="493" lengthAdjust="spacingAndGlyphs">journal of corporate finance</text></g>
<g id="n-business-ethics-a-european-review" class="nr"><circle cx="1332" cy="1373" r="10"/><text x="1318" y="1385" font-size="34.3" textLength="558" lengthAdjust="spacingAndGlyphs">business ethics: a european review</text></g>
<g id="n-business-strategy-and-the-environment" class="nr"><circle cx="839" cy="1497" r="10"/><text x="825" y="1511" font-size="32.5" textLength="623" lengthAdjust="spacingAndGlyphs">business strategy and the environment</text></g>
<g id="n-academy-of-management-journal" class="nr"><circle cx="608" cy="1759" r="10"/><text x="603" y="1770" font-size="34.3" textLength="530" lengthAdjust="spacingAndGlyphs">academy of management journal</text></g>
<g id="n-accounting" class="nr"><circle cx="1763" cy="2218" r="11"/><text x="1763" y="2226" font-size="34.6" textLength="177" lengthAdjust="spacingAndGlyphs">accounting</text></g>
<g id="n-management-science" class="nb"><circle cx="709" cy="542" r="13"/><text x="712" y="553" font-size="37.6" textLength="372" lengthAdjust="spacingAndGlyphs">management science</text></g>
<g id="n-managerial-finance" class="ng"><circle cx="2431" cy="1620" r="14"/><text x="2428" y="1630" font-size="34.3" textLength="306" lengthAdjust="spacingAndGlyphs">managerial finance</text></g>
<g id="n-strategic-management-journal" class="nr"><circle cx="932" cy="1138" r="15"/><text x="933" y="1148" font-size="38" textLength="533" lengthAdjust="spacingAndGlyphs">strategic management journal</text></g>
<g id="n-blue-unlabeled-3" class="nb"><circle cx="1407" cy="436" r="24"/></g>
<g id="n-journal-of-financial-and-quantitative-anal" class="ng"><circle cx="2574" cy="695" r="27"/><text x="2575" y="706" font-size="41.2" textLength="775" lengthAdjust="spacingAndGlyphs">journal of financial and quantitative anal</text></g>
<g id="n-green-unlabeled-2" class="ng"><circle cx="2226" cy="332" r="33"/></g>
<g id="n-red-unlabeled-5" class="nr"><circle cx="1098" cy="1747" r="40"/></g>
<g id="n-european-journal-of-operational-research" class="nb"><circle cx="542" cy="284" r="41"/><text x="524" y="298" font-size="48" textLength="923" lengthAdjust="spacingAndGlyphs">european journal of operational research</text></g>
<g id="n-green-unlabeled-3" class="ng"><circle cx="2542" cy="855" r="55"/></g>
<g id="n-green-unlabeled-4" class="ng"><circle cx="2153" cy="1663" r="60"/></g>
<g id="n-journal-of-banking-and-finance" class="ng"><circle cx="1709" cy="370" r="66"/><text x="1702" y="395" font-size="62" textLength="879" lengthAdjust="spacingAndGlyphs">journal of banking and finance</text></g>
<g id="n-journal-of-business" class="ng"><circle cx="2219" cy="1193" r="69"/><text x="2212" y="1214" font-size="62" textLength="546" lengthAdjust="spacingAndGlyphs">journal of business</text></g>
<g id="n-journal-of-finance" class="ng"><circle cx="2075" cy="899" r="97"/><text x="2070" y="919" font-size="75" textLength="615" lengthAdjust="spacingAndGlyphs">journal of finance</text></g>
<g id="n-journal-of-business-ethics" class="nr"><circle cx="1385" cy="1687" r="100"/><text x="1383" y="1710" font-size="79.5" textLength="942" lengthAdjust="spacingAndGlyphs">journal of business ethics</text></g>
</g>
</svg>
